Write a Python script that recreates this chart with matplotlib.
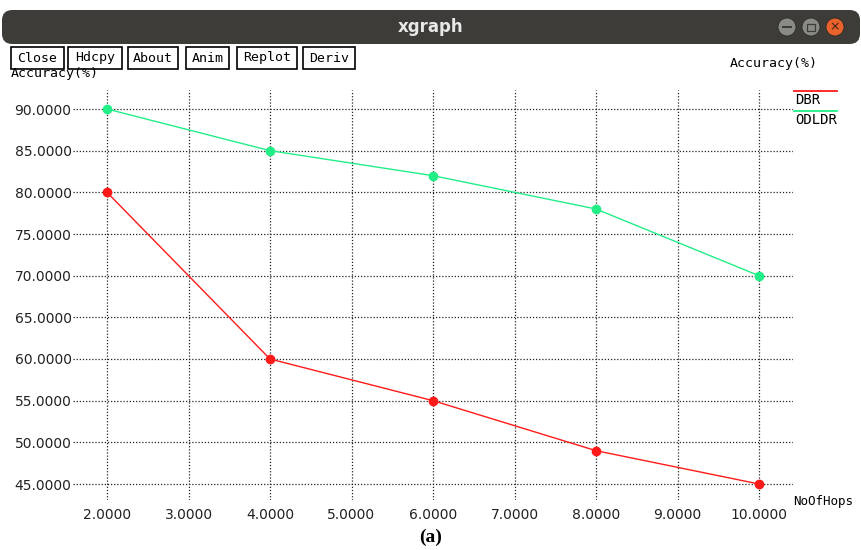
import matplotlib
matplotlib.use("Agg")
import matplotlib.pyplot as plt
from matplotlib.patches import FancyBboxPatch, Rectangle, Circle
from matplotlib.lines import Line2D

# ---- data ----
hops = [2, 4, 6, 8, 10]
dbr = [80, 60, 55, 49, 45]
odldr = [90, 85, 82, 78, 70]
x_ticks = [2, 3, 4, 5, 6, 7, 8, 9, 10]
y_ticks = [45, 50, 55, 60, 65, 70, 75, 80, 85, 90]
buttons = ["Close", "Hdcpy", "About", "Anim", "Replot", "Deriv"]
series_names = ["DBR", "ODLDR"]

W, H = 862, 550
fig = plt.figure(figsize=(W / 100, H / 100), dpi=100)
fig.patch.set_facecolor("white")

def fx(px):
    return px / W

def fy(py):
    return 1 - py / H

RED = "#ff1a1a"
GREEN = "#22ee88"

# ---- title bar ----
bar = FancyBboxPatch((fx(2), fy(44)), fx(858), (44 - 10) / H,
                     boxstyle="round,pad=0,rounding_size=0.012",
                     transform=fig.transFigure, facecolor="#3d3c38",
                     edgecolor="none", mutation_aspect=W / H)
fig.patches.append(bar)
fig.text(0.5, fy(27), "xgraph", color="#e8e8e8", fontsize=12, fontweight="bold",
         ha="center", va="center", family="DejaVu Sans")
for cx, col in [(787, "#8a8a86"), (811, "#8a8a86"), (835, "#e8622c")]:
    c = Circle((cx, H - 27), 9, transform=None, facecolor=col, edgecolor="#2a2a28", lw=0.6)
    fig.patches.append(c)
fig.patches.append(Rectangle((fx(782), fy(27.5)), fx(10), 1.2 / H, transform=fig.transFigure,
                             facecolor="#3d3c38", edgecolor="none"))
fig.patches.append(Rectangle((fx(807), fy(31)), fx(8), 7 / H, transform=fig.transFigure,
                             facecolor="none", edgecolor="#3d3c38", lw=0.9))
fig.text(fx(835), fy(27), "×", color="#3d2010", fontsize=9, ha="center", va="center")

# ---- buttons ----
btn_x = [(11, 64), (68, 122), (128, 178), (186, 229), (237, 297), (303, 355)]
for (x0, x1), lab in zip(btn_x, buttons):
    fig.patches.append(Rectangle((fx(x0), fy(69)), fx(x1 - x0), 22 / H, transform=fig.transFigure,
                                 facecolor="white", edgecolor="black", lw=1.2))
    fig.text(fx((x0 + x1) / 2), fy(58), lab, fontsize=9.5, ha="center", va="center",
             family="DejaVu Sans Mono")

# ---- axes ----
ax_left, ax_right, ax_top, ax_bot = 73, 793, 90, 500
ax = fig.add_axes([fx(ax_left), fy(ax_bot), fx(ax_right - ax_left), (ax_bot - ax_top) / H])
px_per_x = (759 - 107) / 8.0
px_per_y = (484 - 109) / 45.0
ax.set_xlim(2 - (107 - ax_left) / px_per_x, 10 + (ax_right - 759) / px_per_x)
ax.set_ylim(45 - (ax_bot - 484) / px_per_y, 90 + (109 - ax_top) / px_per_y)
for s in ax.spines.values():
    s.set_visible(False)
ax.set_xticks(x_ticks)
ax.set_yticks(y_ticks)
ax.set_xticklabels([f"{v:.4f}" for v in x_ticks], fontsize=10, color="#222222")
ax.set_yticklabels([f"{v:.4f}" for v in y_ticks], fontsize=10, color="#222222")
ax.tick_params(length=0, pad=6)
ax.tick_params(axis="y", pad=1)
ax.grid(True, color="#222222", linestyle=(0, (1, 1.5)), linewidth=0.9)
ax.set_axisbelow(True)

ax.plot(hops, dbr, color=RED, lw=1.0, marker="o", markersize=6, zorder=3)
ax.plot(hops, odldr, color=GREEN, lw=1.0, marker="o", markersize=6, zorder=3)

# ---- texts ----
fig.text(fx(11), fy(73), "Accuracy(%)", fontsize=9.5, ha="left", va="center", family="DejaVu Sans Mono")
fig.text(fx(774), fy(63), "Accuracy(%)", fontsize=9.5, ha="center", va="center", family="DejaVu Sans Mono")
fig.text(fx(793), fy(502), "NoOfHops", fontsize=9, ha="left", va="center", family="DejaVu Sans Mono")
fig.text(fx(431), fy(537), "(a)", fontsize=14, fontweight="bold", ha="center", va="center",
         family="Liberation Serif")

# legend
for i, (name, col) in enumerate(zip(series_names, [RED, GREEN])):
    yline = 91 + i * 20
    fig.lines.append(Line2D([fx(794), fx(837)], [fy(yline), fy(yline)], transform=fig.transFigure,
                            color=col, lw=1.3))
    fig.text(fx(795), fy(yline + 9), name, fontsize=10, ha="left", va="center",
             family="DejaVu Sans Mono")

fig.savefig("out.png", dpi=100)
